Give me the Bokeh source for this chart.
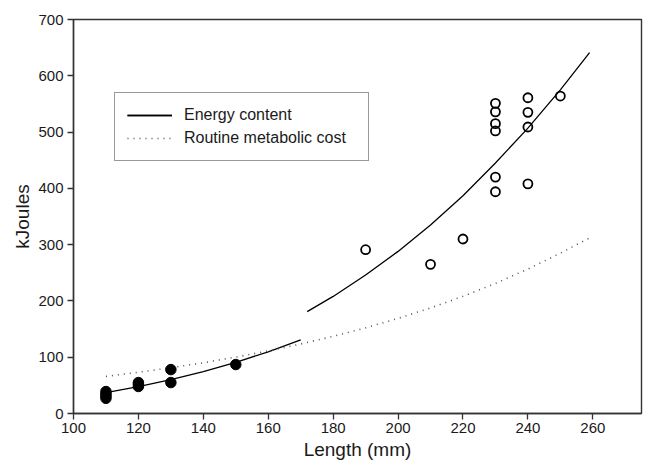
from bokeh.plotting import figure
from bokeh.models import Range1d, FixedTicker, Legend, LegendItem
from bokeh.embed import file_html
from bokeh.resources import INLINE

# Observed data: small fish (filled) and large fish (open)
small_length = [110, 110, 110, 110, 120, 120, 120, 130, 130, 150]
small_kj = [27, 31, 35, 39, 48, 52, 55, 55, 78, 87]
large_length = [190, 210, 220, 230, 230, 230, 230, 230, 230, 240, 240, 240, 240, 250]
large_kj = [291, 265, 310, 551, 536, 515, 502, 420, 394, 561, 535, 509, 408, 564]

# Fitted energy-content curves
energy_small_len = [110, 120, 130, 140, 150, 160, 170]
energy_small_kj = [37, 47.6, 60, 74.4, 91, 109.6, 131]
energy_large_len = [172, 180, 190, 200, 210, 220, 230, 240, 250, 259]
energy_large_kj = [181, 208, 246, 288, 335, 387, 445, 507, 575, 641]

# Routine metabolic cost curve
metab_len = [110, 120, 130, 140, 150, 160, 170, 180, 190, 200, 210, 220, 230, 240, 250, 259]
metab_kj = [66, 73.3, 81.3, 90.2, 100.2, 111.2, 123.5, 137.1, 152.2, 168.9, 187.5, 208.2, 231.1, 256.6, 284.8, 312]

x_ticks = [100, 120, 140, 160, 180, 200, 220, 240, 260]
y_ticks = [0, 100, 200, 300, 400, 500, 600, 700]

FONT = "Liberation Sans"

p = figure(width=644, height=462, output_backend="svg", toolbar_location=None,
           x_range=Range1d(100, 275), y_range=Range1d(0, 700),
           min_border_left=73, min_border_right=3, min_border_top=19, min_border_bottom=47)

p.grid.visible = False
p.outline_line_color = "#333333"
p.outline_line_width = 1.4
p.background_fill_color = "white"
p.border_fill_color = "white"

for ax in (p.xaxis[0], p.yaxis[0]):
    ax.axis_line_color = "#333333"
    ax.axis_line_width = 1.4
    ax.major_tick_line_color = "#333333"
    ax.major_tick_line_width = 1.3
    ax.major_tick_out = 6
    ax.major_tick_in = 0
    ax.minor_tick_line_color = None
    ax.major_label_text_font = FONT
    ax.major_label_text_font_size = "15px"
    ax.major_label_text_color = "#1a1a1a"
    ax.axis_label_text_font = FONT
    ax.axis_label_text_font_size = "19px"
    ax.axis_label_text_font_style = "normal"
    ax.axis_label_text_color = "#1a1a1a"

p.xaxis.ticker = FixedTicker(ticks=x_ticks)
p.yaxis.ticker = FixedTicker(ticks=y_ticks)
p.xaxis.axis_label = "Length (mm)"
p.yaxis.axis_label = "kJoules"
p.xaxis.major_label_standoff = 3
p.xaxis.axis_label_standoff = 3
p.yaxis.major_label_standoff = 4
p.yaxis.axis_label_standoff = 2

r_e1 = p.line(energy_small_len, energy_small_kj, line_color="black", line_width=1.3)
r_e2 = p.line(energy_large_len, energy_large_kj, line_color="black", line_width=1.3)
r_m = p.line(metab_len, metab_kj, line_color="#555555", line_width=1.6, line_dash="1 5")

p.scatter(small_length, small_kj, size=10.5, fill_color="black", line_color="black")
p.scatter(large_length, large_kj, size=9, fill_color=None, line_color="black", line_width=1.8)

legend = Legend(items=[LegendItem(label="Energy content", renderers=[r_e1, r_e2]),
                       LegendItem(label="Routine metabolic cost", renderers=[r_m])],
                location=(41, 252), orientation="vertical")
legend.label_text_font = FONT
legend.label_text_font_size = "16px"
legend.label_text_color = "#1a1a1a"
legend.glyph_width = 45
legend.glyph_height = 20
legend.label_height = 20
legend.label_standoff = 12
legend.padding = 12
legend.spacing = 3
legend.margin = 0
legend.border_line_color = "#333333"
legend.border_line_width = 1.4
legend.background_fill_alpha = 1
legend.label_width = 172
p.add_layout(legend, "center")

open("out.html", "w").write(file_html(p, INLINE))
